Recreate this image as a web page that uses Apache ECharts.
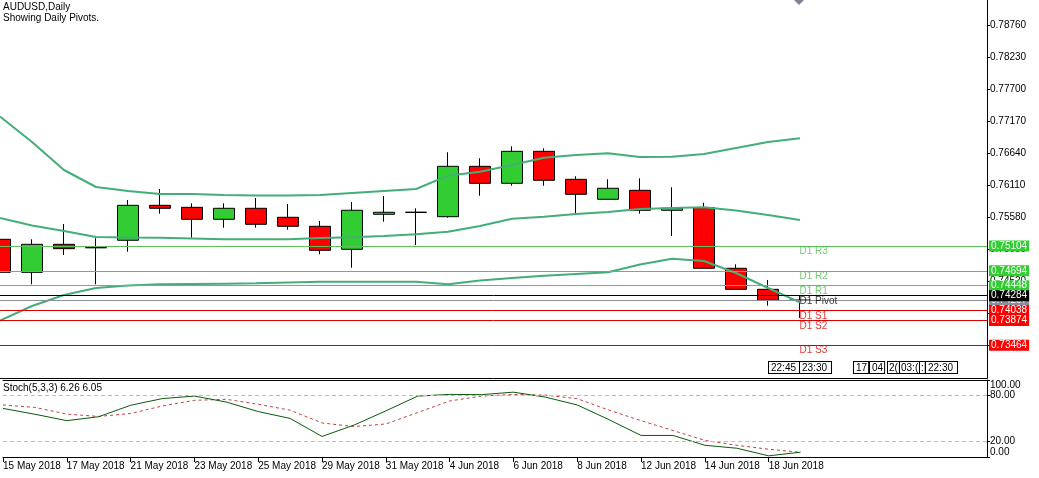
<!DOCTYPE html>
<html>
<head>
<meta charset="utf-8">
<script src="https://cdn.jsdelivr.net/npm/echarts@6/dist/echarts.min.js"></script>
<style>
  html, body { margin: 0; padding: 0; background: #fff; }
  #chart { width: 1039px; height: 478px; }
</style>
</head>
<body>
<div id="chart"></div>
<script>
const dates = ['15 May 2018','16 May 2018','17 May 2018','18 May 2018','21 May 2018','22 May 2018','23 May 2018','24 May 2018','25 May 2018','28 May 2018','29 May 2018','30 May 2018','31 May 2018','1 Jun 2018','4 Jun 2018','5 Jun 2018','6 Jun 2018','7 Jun 2018','8 Jun 2018','11 Jun 2018','12 Jun 2018','13 Jun 2018','14 Jun 2018','15 Jun 2018','18 Jun 2018','19 Jun 2018'];

const openP  = [0.75216,0.74670,0.75133,0.75075,0.75200,0.75778,0.75745,0.75547,0.75729,0.75580,0.75431,0.75051,0.75630,0.75665,0.75590,0.76423,0.76142,0.76671,0.76208,0.75878,0.76026,0.75696,0.75739,0.74737,0.74389,0.74207];
const closeP = [0.74670,0.75133,0.75061,0.75080,0.75778,0.75729,0.75547,0.75729,0.75464,0.75431,0.75034,0.75696,0.75663,0.75660,0.76423,0.76142,0.76671,0.76192,0.75960,0.76060,0.75696,0.75729,0.74737,0.74389,0.74207,0.74210];
const lowP   = [0.74600,0.74472,0.74956,0.74472,0.75011,0.75639,0.75243,0.75408,0.75408,0.75375,0.74968,0.74746,0.75507,0.75122,0.75573,0.75937,0.76102,0.76102,0.75618,0.75878,0.75639,0.75271,0.74737,0.74389,0.74118,0.73915];
const highP  = [0.75300,0.75216,0.75469,0.75233,0.75866,0.76048,0.75811,0.75811,0.75899,0.75800,0.75519,0.75833,0.75932,0.75729,0.76655,0.76556,0.76754,0.76721,0.76258,0.76208,0.76225,0.76076,0.75821,0.74803,0.74543,0.74284];

const bbUpper  = [0.77247,0.76825,0.76362,0.76081,0.76015,0.75965,0.75965,0.75949,0.75940,0.75940,0.75949,0.75982,0.76015,0.76048,0.76268,0.76334,0.76445,0.76566,0.76610,0.76638,0.76577,0.76582,0.76627,0.76726,0.76825,0.76886];
const bbMiddle = [0.75568,0.75444,0.75353,0.75254,0.75246,0.75243,0.75229,0.75216,0.75216,0.75216,0.75238,0.75249,0.75271,0.75299,0.75342,0.75436,0.75557,0.75590,0.75635,0.75668,0.75717,0.75734,0.75745,0.75692,0.75618,0.75535];
const bbLower  = [0.73873,0.74113,0.74295,0.74411,0.74452,0.74472,0.74477,0.74482,0.74488,0.74502,0.74515,0.74515,0.74515,0.74515,0.74472,0.74535,0.74576,0.74614,0.74642,0.74670,0.74799,0.74895,0.74857,0.74659,0.74411,0.74174];

const stochMain   = [63.1,55.5,47.2,52.3,67.2,75.9,79.1,71.4,59.0,50.1,26.7,41.4,59.9,79.1,81.3,81.0,84.2,77.8,67.6,48.4,28.0,28.0,15.2,11.4,1.5,6.26];
const stochSignal = [67.6,64.4,55.7,52.7,56.5,66.3,73.6,74.9,68.5,60.8,44.2,39.5,42.9,57.8,72.7,79.1,81.3,80.4,75.7,60.8,47.2,34.4,21.6,15.2,10.1,6.05];

const priceTicks = [0.78760,0.78230,0.77700,0.77170,0.76640,0.76110,0.75580,0.75050,0.74520,0.73990,0.73460];
const dateTickIdx = [0,2,4,6,8,10,12,14,16,18,20,22,24];

const pivotNames  = ['D1 R3','D1 R2','D1 R1','D1 Pivot','D1 S1','D1 S2','D1 S3'];
const pivotValues = [0.75104,0.74694,0.74448,0.74284,0.74038,0.73874,0.73464];
const pivotKinds  = ['R','R','R','P','S','S','S'];
const bidPrice = 0.74207;
const stochTitle = 'Stoch(5,3,3) 6.26 6.05';
const timeBoxes = ['22:45','23:30','17','04','2(','03:(',':','22:30'];

const FONT = 'Liberation Sans, Arial, sans-serif';
const kindLine  = { R: '#5CBF5C', S: '#D80000', P: '#000000' };
const kindBox   = { R: '#32CD32', S: '#FF0000', P: '#000000' };
const kindText  = { R: '#4CBB4C', S: '#E00000', P: '#000000' };

const X_MIN = 0, X_MAX = 30.84375;
const Y_MAX = 0.791734, Y_MIN = 0.729224;

const chart = echarts.init(document.getElementById('chart'), null, { renderer: 'canvas' });

const candleData = dates.map((d, i) => [i, openP[i], closeP[i], lowP[i], highP[i]]);
const band = arr => arr.map((v, i) => [i, v]);
const last = dates.length - 1;

const markLineData = [
  { yAxis: bidPrice, lineStyle: { color: '#8A8F99', width: 1, type: 'solid' },
    label: { backgroundColor: '#8A8F99' } }
].concat(pivotValues.map((v, i) => ({
  yAxis: v,
  lineStyle: { color: kindLine[pivotKinds[i]], width: 1, type: 'solid' },
  label: { backgroundColor: kindBox[pivotKinds[i]] }
})));

const yLine = { show: true, onZero: false, lineStyle: { color: '#000', width: 1 } };

const option = {
  animation: false,
  backgroundColor: '#ffffff',
  grid: [
    { left: 0, right: 52, top: 0, height: 378, containLabel: false },
    { left: 0, right: 52, top: 380, height: 77, containLabel: false }
  ],
  xAxis: [
    { type: 'value', gridIndex: 0, min: X_MIN, max: X_MAX,
      axisLine: { show: true, onZero: false, lineStyle: { color: '#000', width: 1 } },
      axisTick: { show: false }, axisLabel: { show: false }, splitLine: { show: false } },
    { type: 'value', gridIndex: 1, min: X_MIN, max: X_MAX, position: 'bottom',
      axisLine: { show: true, onZero: false, lineStyle: { color: '#000', width: 1 } },
      axisTick: { show: true, length: 5, customValues: dateTickIdx, lineStyle: { color: '#000' } },
      axisLabel: { show: true, customValues: dateTickIdx, align: 'left', margin: 4,
        fontFamily: FONT, fontSize: 10, color: '#000',
        formatter: v => dates[Math.round(v)] },
      splitLine: { show: false } },
    { type: 'value', gridIndex: 1, min: X_MIN, max: X_MAX, position: 'top',
      axisLine: { show: true, onZero: false, lineStyle: { color: '#000', width: 1 } },
      axisTick: { show: false }, axisLabel: { show: false }, splitLine: { show: false } }
  ],
  yAxis: [
    { type: 'value', gridIndex: 0, position: 'right', min: Y_MIN, max: Y_MAX, scale: true,
      axisLine: yLine,
      axisTick: { show: true, length: 3, inside: false, customValues: priceTicks, lineStyle: { color: '#000' } },
      axisLabel: { show: true, customValues: priceTicks, margin: 3, fontFamily: FONT, fontSize: 10, color: '#000',
        formatter: v => v.toFixed(5) },
      splitLine: { show: false } },
    { type: 'value', gridIndex: 1, position: 'right', min: 0, max: 100,
      axisLine: yLine,
      axisTick: { show: true, length: 3, customValues: [20, 80], lineStyle: { color: '#000' } },
      axisLabel: { show: true, customValues: [20, 80], margin: 3, fontFamily: FONT, fontSize: 10, color: '#000',
        formatter: v => v.toFixed(2) },
      splitLine: { show: false } },
    { type: 'value', gridIndex: 1, position: 'right', min: 0, max: 100,
      axisLine: { show: false, onZero: false },
      axisTick: { show: true, length: 3, customValues: [100], lineStyle: { color: '#000' } },
      axisLabel: { show: true, customValues: [100], margin: 3, verticalAlign: 'top', fontFamily: FONT, fontSize: 10, color: '#000',
        formatter: v => v.toFixed(2) },
      splitLine: { show: false } },
    { type: 'value', gridIndex: 1, position: 'right', min: 0, max: 100,
      axisLine: { show: false, onZero: false },
      axisTick: { show: true, length: 3, customValues: [0], lineStyle: { color: '#000' } },
      axisLabel: { show: true, customValues: [0], margin: 3, verticalAlign: 'bottom', fontFamily: FONT, fontSize: 10, color: '#000',
        formatter: v => v.toFixed(2) },
      splitLine: { show: false } }
  ],
  series: [
    {
      name: 'pivotLines', type: 'line', xAxisIndex: 0, yAxisIndex: 0,
      data: band(bbMiddle), symbol: 'none', lineStyle: { opacity: 0 }, silent: true, z: 1,
      markLine: {
        silent: true, symbol: ['none', 'none'], animation: false, precision: 5,
        label: { show: true, position: 'end', distance: 2, color: '#fff', fontFamily: FONT, fontSize: 10,
          padding: [1, 2, 0, 2], formatter: p => Number(p.value).toFixed(5) },
        data: markLineData
      }
    },
    {
      name: 'AUDUSD', type: 'candlestick', xAxisIndex: 0, yAxisIndex: 0,
      data: candleData, encode: { x: 0, y: [1, 2, 3, 4] },
      barWidth: 22, clip: false, z: 3,
      itemStyle: { color: '#32CD32', color0: '#FF0000', borderColor: '#000', borderColor0: '#000',
        borderColorDoji: '#000', borderWidth: 1 }
    },
    { name: 'BB upper', type: 'line', xAxisIndex: 0, yAxisIndex: 0, data: band(bbUpper),
      symbol: 'none', z: 4, lineStyle: { color: '#44AE78', width: 2 } },
    { name: 'BB middle', type: 'line', xAxisIndex: 0, yAxisIndex: 0, data: band(bbMiddle),
      symbol: 'none', z: 4, lineStyle: { color: '#44AE78', width: 2 } },
    { name: 'BB lower', type: 'line', xAxisIndex: 0, yAxisIndex: 0, data: band(bbLower),
      symbol: 'none', z: 4, lineStyle: { color: '#44AE78', width: 2 } },
    {
      name: 'pivotNames', type: 'scatter', xAxisIndex: 0, yAxisIndex: 0, symbolSize: 1, z: 5,
      itemStyle: { color: 'rgba(0,0,0,0)' },
      data: pivotValues.map((v, i) => ({ value: [last, v], name: pivotNames[i],
        label: { color: kindText[pivotKinds[i]] } })),
      label: { show: true, position: [0, 1], align: 'left', verticalAlign: 'top',
        fontFamily: FONT, fontSize: 10, formatter: '{b}' }
    },
    {
      name: 'Stoch main', type: 'line', xAxisIndex: 1, yAxisIndex: 1, data: band(stochMain),
      symbol: 'none', lineStyle: { color: '#0A5A0A', width: 1 }, z: 3,
      markLine: { silent: true, symbol: ['none', 'none'], label: { show: false },
        lineStyle: { color: '#BDBDBD', type: [4, 3], width: 1 },
        data: [{ yAxis: 20 }, { yAxis: 80 }] }
    },
    {
      name: 'Stoch signal', type: 'line', xAxisIndex: 1, yAxisIndex: 1, data: band(stochSignal),
      symbol: 'none', lineStyle: { color: '#C83C3C', width: 1, type: [3, 3] }, z: 2
    }
  ],
  graphic: [
    { type: 'text', left: 3, top: 2, style: { text: 'AUDUSD,Daily', font: '10px ' + FONT, fill: '#000' } },
    { type: 'text', left: 3, top: 13, style: { text: 'Showing Daily Pivots.', font: '10px ' + FONT, fill: '#000' } },
    { type: 'text', left: 3, top: 383, style: { text: stochTitle, font: '10px ' + FONT, fill: '#000' } },
    { type: 'polygon', shape: { points: [[794, 0], [804, 0], [799, 5]] }, style: { fill: '#7A8494' } },
    { type: 'text', left: 768, top: 361, style: { text: timeBoxes[0], font: '10px ' + FONT, fill: '#000',
      backgroundColor: '#fff', borderColor: '#000', borderWidth: 1, padding: [1, 4, 0, 2] } },
    { type: 'text', left: 799, top: 361, style: { text: timeBoxes[1], font: '10px ' + FONT, fill: '#000',
      backgroundColor: '#fff', borderColor: '#000', borderWidth: 1, padding: [1, 4, 0, 2] } },
    { type: 'text', left: 853, top: 361, style: { text: timeBoxes[2], font: '10px ' + FONT, fill: '#000',
      backgroundColor: '#fff', borderColor: '#000', borderWidth: 1, padding: [1, 1, 0, 2] } },
    { type: 'text', left: 869, top: 361, style: { text: timeBoxes[3], font: '10px ' + FONT, fill: '#000',
      backgroundColor: '#fff', borderColor: '#000', borderWidth: 1, padding: [1, 1, 0, 2] } },
    { type: 'text', left: 887, top: 361, style: { text: timeBoxes[4], font: '10px ' + FONT, fill: '#000',
      backgroundColor: '#fff', borderColor: '#000', borderWidth: 1, padding: [1, 1, 0, 1] } },
    { type: 'text', left: 899, top: 361, style: { text: timeBoxes[5], font: '10px ' + FONT, fill: '#000',
      backgroundColor: '#fff', borderColor: '#000', borderWidth: 1, padding: [1, 1, 0, 1] } },
    { type: 'text', left: 919, top: 361, style: { text: timeBoxes[6], font: '10px ' + FONT, fill: '#000',
      backgroundColor: '#fff', borderColor: '#000', borderWidth: 1, padding: [1, 1, 0, 1] } },
    { type: 'text', left: 925, top: 361, style: { text: timeBoxes[7], font: '10px ' + FONT, fill: '#000',
      backgroundColor: '#fff', borderColor: '#000', borderWidth: 1, padding: [1, 4, 0, 2] } }
  ]
};

chart.setOption(option);
</script>
</body>
</html>
